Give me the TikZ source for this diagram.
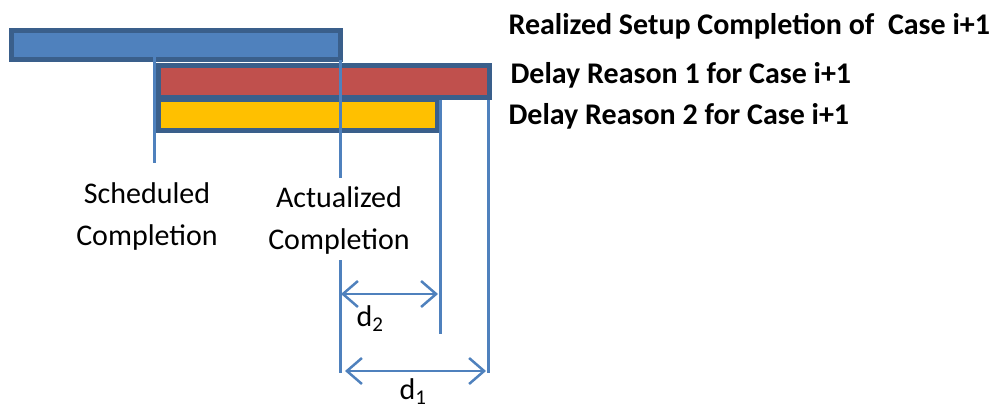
\documentclass[tikz,border=0pt]{standalone}
\usepackage{fontspec}
\setmainfont{Carlito}
\usetikzlibrary{arrows.meta}

\definecolor{barblue}{HTML}{4F81BD}
\definecolor{framedark}{HTML}{3A5F8B}
\definecolor{barred}{HTML}{C0504D}
\definecolor{baryellow}{HTML}{FFC000}

\tikzset{
  bar/.style={draw=framedark, line width=5pt},
  mark line/.style={draw=barblue, line width=3pt},
  span arrow/.style={barblue, line width=2.5pt,
    {Straight Barb[length=15pt,width=26pt]}-{Straight Barb[length=15pt,width=26pt]}},
  legend/.style={anchor=west, font=\fontsize{30}{34}\selectfont\bfseries},
  caption/.style={align=center, font=\fontsize{30}{42}\selectfont},
  dist/.style={font=\fontsize{30}{34}\selectfont},
}

\begin{document}
\begin{tikzpicture}[x=1pt, y=-1pt]
  \useasboundingbox (0,0) rectangle (998,406);

  % bars
  \draw[bar, fill=barblue] (11.5,30.5) rectangle (340.5,59.5);
  \draw[bar, fill=barred] (158.5,65.5) rectangle (489.5,97.5);
  \draw[bar, fill=baryellow] (158.5,99.5) rectangle (437.5,130.5);

  % reference points on the time axis
  \coordinate (sched top) at (154,35);
  \coordinate (sched bot) at (154,163);
  \coordinate (act top) at (340,60);
  \coordinate (act mid) at (340,178);
  \coordinate (act low) at (340,260);
  \coordinate (act bot) at (340,373);
  \coordinate (r2 top) at (440,100);
  \coordinate (r2 bot) at (440,334);
  \coordinate (r1 top) at (488,100);
  \coordinate (r1 bot) at (488,373);

  \draw[mark line] (sched top) -- (sched bot);
  \draw[mark line] (act top) -- (act mid);
  \draw[mark line] (act low) -- (act bot);
  \draw[mark line] (r2 top) -- (r2 bot);
  \draw[mark line] (r1 top) -- (r1 bot);

  % delays
  \coordinate (d2 from) at (341,294);
  \coordinate (d2 to) at (438,294);
  \coordinate (d1 from) at (345,371);
  \coordinate (d1 to) at (486,371);
  \draw[span arrow] (d2 from) -- (d2 to);
  \draw[span arrow] (d1 from) -- (d1 to);
  \node[dist] (d2 lbl) at (370,319) {d\textsubscript{2}};
  \node[dist] (d1 lbl) at (413,392) {d\textsubscript{1}};

  % captions
  \node[caption] (sched lbl) at (147,217) {Scheduled\\Completion};
  \node[caption] (act lbl) at (339,221) {Actualized\\Completion};

  \node[legend] (realized) at (505,26) {Realized Setup Completion of\ \ Case i+1};
  \node[legend] (reason1) at (507,75) {Delay Reason 1 for Case i+1};
  \node[legend] (reason2) at (505,116) {Delay Reason 2 for Case i+1};
\end{tikzpicture}
\end{document}
